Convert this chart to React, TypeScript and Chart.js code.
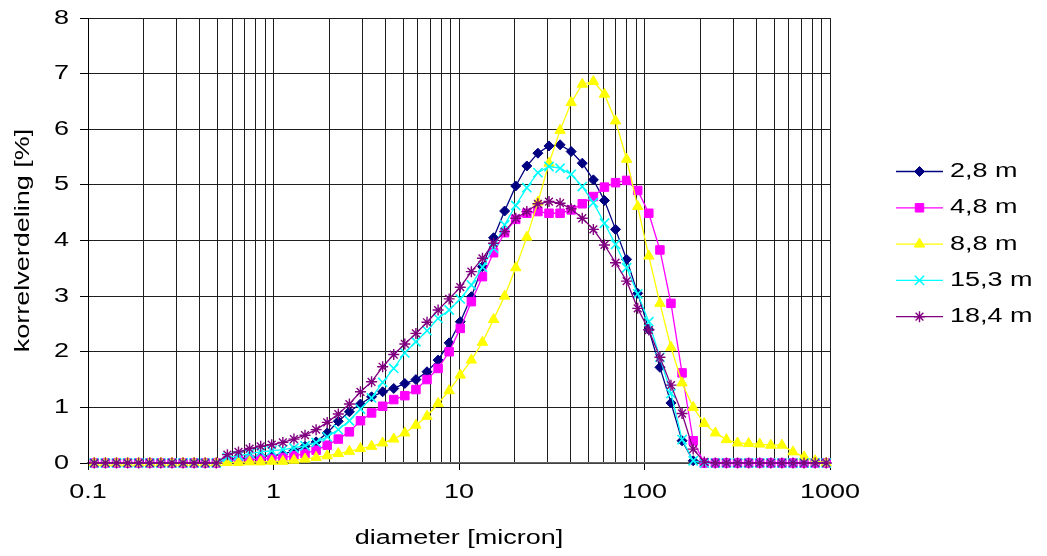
import React, { useEffect, useRef } from 'react';
import { Chart, registerables } from 'chart.js';
import { drawPoint } from 'chart.js/helpers';

Chart.register(...registerables);

// ---------- data ----------
const diameters = [
  0.1081, 0.1241, 0.1424, 0.1634, 0.1875, 0.2152, 0.247, 0.2835, 0.3253, 0.3733,
  0.4284, 0.4916, 0.5642, 0.6475, 0.743, 0.8527, 0.9784, 1.123, 1.289, 1.479,
  1.697, 1.948, 2.235, 2.565, 2.943, 3.378, 3.876, 4.448, 5.105, 5.858,
  6.723, 7.715, 8.853, 10.16, 11.66, 13.38, 15.36, 17.62, 20.22, 23.21,
  26.63, 30.56, 35.07, 40.25, 46.19, 53.01, 60.83, 69.81, 80.11, 91.93,
  105.5, 121.1, 138.9, 159.4, 183.0, 210.0, 241.0, 276.5, 317.3, 364.1,
  417.9, 479.6, 550.4, 631.6, 724.7, 831.7, 954.4,
];

const depth28 = [
  0, 0, 0, 0, 0, 0, 0, 0, 0, 0, 0, 0,
  0.06, 0.08, 0.1, 0.12, 0.13, 0.16, 0.22, 0.3, 0.38, 0.54,
  0.75, 0.92, 1.06, 1.19, 1.28, 1.34, 1.43, 1.5, 1.64, 1.85,
  2.16, 2.54, 2.99, 3.53, 4.05, 4.53, 4.98, 5.34, 5.57, 5.7,
  5.72, 5.6, 5.39, 5.09, 4.72, 4.2, 3.66, 3.05, 2.4, 1.72,
  1.08, 0.4, 0.04,
  0, 0, 0, 0, 0, 0, 0, 0, 0, 0, 0, 0,
];

const depth48 = [
  0, 0, 0, 0, 0, 0, 0, 0, 0, 0, 0, 0,
  0.04, 0.05, 0.06, 0.07, 0.08, 0.1, 0.13, 0.17, 0.23, 0.32,
  0.43, 0.56, 0.76, 0.9, 1.02, 1.14, 1.21, 1.32, 1.5, 1.7,
  2.0, 2.42, 2.9, 3.35, 3.78, 4.14, 4.38, 4.49, 4.52, 4.49,
  4.49, 4.55, 4.66, 4.79, 4.96, 5.04, 5.08, 4.9, 4.49, 3.83,
  2.87, 1.62, 0.4,
  0, 0, 0, 0, 0, 0, 0, 0, 0, 0, 0, 0,
];

const depth88 = [
  0, 0, 0, 0, 0, 0, 0, 0, 0, 0, 0, 0,
  0.01, 0.01, 0.02, 0.02, 0.03, 0.03, 0.05, 0.07, 0.1, 0.13,
  0.17, 0.21, 0.26, 0.3, 0.36, 0.43, 0.54, 0.68, 0.84, 1.07,
  1.3, 1.58, 1.85, 2.17, 2.58, 3.0, 3.51, 4.06, 4.69, 5.39,
  5.98, 6.48, 6.81, 6.86, 6.63, 6.15, 5.46, 4.61, 3.72, 2.87,
  2.08, 1.44, 1.0, 0.71, 0.54, 0.42, 0.36, 0.35, 0.34, 0.32,
  0.32, 0.2, 0.11, 0.04, 0,
];

const depth153 = [
  0, 0, 0, 0, 0, 0, 0, 0, 0, 0, 0, 0,
  0.1, 0.13, 0.17, 0.2, 0.22, 0.24, 0.27, 0.31, 0.37, 0.47,
  0.6, 0.76, 0.97, 1.17, 1.45, 1.7, 1.98, 2.18, 2.38, 2.6,
  2.75, 2.95, 3.2, 3.52, 3.86, 4.28, 4.63, 4.95, 5.22, 5.33,
  5.3, 5.19, 4.97, 4.68, 4.31, 3.93, 3.51, 3.04, 2.54, 1.9,
  1.25, 0.42, 0.04,
  0, 0, 0, 0, 0, 0, 0, 0, 0, 0, 0, 0,
];

const depth184 = [
  0, 0, 0, 0, 0, 0, 0, 0, 0, 0, 0, 0,
  0.15, 0.2, 0.26, 0.3, 0.33, 0.37, 0.43, 0.5, 0.6, 0.73,
  0.88, 1.06, 1.28, 1.46, 1.73, 1.95, 2.14, 2.33, 2.53, 2.75,
  2.95, 3.16, 3.44, 3.68, 3.95, 4.16, 4.4, 4.52, 4.66, 4.7,
  4.67, 4.57, 4.4, 4.2, 3.92, 3.6, 3.27, 2.78, 2.39, 1.9,
  1.4, 0.89, 0.25, 0.02,
  0, 0, 0, 0, 0, 0, 0, 0, 0, 0, 0,
];

const seriesLabels = ['2,8 m', '4,8 m', '8,8 m', '15,3 m', '18,4 m'];
const seriesValues = [depth28, depth48, depth88, depth153, depth184];

const xTickValues = [
  0.1, 0.2, 0.3, 0.4, 0.5, 0.6, 0.7, 0.8, 0.9,
  1, 2, 3, 4, 5, 6, 7, 8, 9,
  10, 20, 30, 40, 50, 60, 70, 80, 90,
  100, 200, 300, 400, 500, 600, 700, 800, 900,
  1000,
];
const xLabelValues = [0.1, 1, 10, 100, 1000];
const xLabelTexts = ['0.1', '1', '10', '100', '1000'];
const yTickValues = [0, 1, 2, 3, 4, 5, 6, 7, 8];

const xTitle = 'diameter [micron]';
const yTitle = 'korrelverdeling [%]';

// ---------- styles ----------
const FONT = '"Liberation Sans", Arial, sans-serif';
const TEXT_SX = 1.35;
const seriesStyles = [
  { color: '#000080', pointStyle: 'rectRot', radius: 5, pbw: 1 },
  { color: '#FF00FF', pointStyle: 'rect', radius: 6, pbw: 1 },
  { color: '#FFFF00', pointStyle: 'triangle', radius: 6, pbw: 1 },
  { color: '#00FFFF', pointStyle: 'crossRot', radius: 6.5, pbw: 1.6 },
  { color: '#800080', pointStyle: 'star', radius: 5.5, pbw: 1.4 },
];

function stretchedText(
  ctx: CanvasRenderingContext2D,
  text: string,
  x: number,
  y: number,
  align: CanvasTextAlign,
  baseline: CanvasTextBaseline,
  sx: number
) {
  ctx.save();
  ctx.translate(x, y);
  ctx.scale(sx, 1);
  ctx.textAlign = align;
  ctx.textBaseline = baseline;
  ctx.fillText(text, 0, 0);
  ctx.restore();
}

const textPlugin = {
  id: 'excelText',
  afterDraw(chart: any) {
    const ctx: CanvasRenderingContext2D = chart.ctx;
    const xs = chart.scales.x;
    const ys = chart.scales.y;
    ctx.save();
    ctx.fillStyle = '#000';
    ctx.font = `20px ${FONT}`;
    yTickValues.forEach((v) => {
      stretchedText(ctx, String(v), 69, ys.getPixelForValue(v), 'right', 'middle', TEXT_SX);
    });
    xLabelValues.forEach((v, i) => {
      stretchedText(ctx, xLabelTexts[i], xs.getPixelForValue(v), 482, 'center', 'top', TEXT_SX);
    });
    stretchedText(ctx, xTitle, (xs.left + xs.right) / 2, 528, 'center', 'top', TEXT_SX);

    // rotated y title (stretched along its baseline, like the horizontal texts)
    ctx.save();
    ctx.translate(23, (ys.top + ys.bottom) / 2);
    ctx.rotate(-Math.PI / 2);
    ctx.scale(TEXT_SX, 1);
    ctx.textAlign = 'center';
    ctx.textBaseline = 'middle';
    ctx.fillText(yTitle, 0, 0);
    ctx.restore();

    // legend
    seriesLabels.forEach((label, i) => {
      const st = seriesStyles[i];
      const y = 171.5 + i * 36.3;
      ctx.strokeStyle = st.color;
      ctx.lineWidth = 1.3;
      ctx.beginPath();
      ctx.moveTo(896, y);
      ctx.lineTo(943, y);
      ctx.stroke();
      ctx.fillStyle = st.color;
      ctx.lineWidth = st.pbw;
      drawPoint(ctx, { pointStyle: st.pointStyle as any, rotation: 0, radius: st.radius, borderWidth: st.pbw }, 919.5, y);
      ctx.fillStyle = '#000';
      stretchedText(ctx, label, 950, y, 'left', 'middle', TEXT_SX);
    });
    ctx.restore();
  },
};

export default function App() {
  const canvasRef = useRef<HTMLCanvasElement | null>(null);

  useEffect(() => {
    document.body.style.margin = '0';
    const canvas = canvasRef.current;
    if (!canvas) return;
    const datasets = seriesLabels.map((label, i) => {
      const st = seriesStyles[i];
      return {
        label,
        data: diameters.map((x, j) => ({ x, y: seriesValues[i][j] })),
        borderColor: st.color,
        backgroundColor: st.color,
        pointBackgroundColor: st.color,
        pointBorderColor: st.color,
        pointStyle: st.pointStyle,
        pointRadius: st.radius,
        pointHoverRadius: st.radius,
        pointBorderWidth: st.pbw,
        borderWidth: 1.3,
        tension: 0,
        fill: false,
        clip: 12,
        order: 4 - i,
      };
    });

    const chart = new Chart(canvas, {
      type: 'line',
      data: { datasets } as any,
      options: {
        animation: false,
        responsive: false,
        devicePixelRatio: 1,
        events: [],
        layout: { padding: { top: 18, right: 217, left: 0, bottom: 0 } },
        plugins: { legend: { display: false }, tooltip: { enabled: false } },
        scales: {
          x: {
            type: 'logarithmic',
            min: 0.1,
            max: 1000,
            afterBuildTicks: (s: any) => {
              s.ticks = xTickValues.map((v) => ({ value: v }));
            },
            afterFit: (s: any) => {
              s.height = 93;
            },
            ticks: { display: false },
            grid: {
              color: '#1e1e1e',
              lineWidth: 1,
              drawTicks: true,
              tickLength: 7,
              tickColor: (c: any) =>
                c.tick && xLabelValues.includes(c.tick.value) ? '#000' : 'rgba(0,0,0,0)',
            },
            border: { display: true, color: '#666', width: 1.5 },
          },
          y: {
            type: 'linear',
            min: 0,
            max: 8,
            ticks: { display: false, stepSize: 1 },
            afterFit: (s: any) => {
              s.width = 88;
            },
            grid: { color: '#1e1e1e', lineWidth: 1, drawTicks: true, tickLength: 8, tickColor: '#000' },
            border: { display: true, color: '#000', width: 1 },
          },
        },
      },
      plugins: [textPlugin],
    } as any);

    return () => chart.destroy();
  }, []);

  return (
    <div style={{ width: 1047, height: 556, background: '#fff' }}>
      <canvas ref={canvasRef} width={1047} height={556} style={{ width: 1047, height: 556, display: 'block' }} />
    </div>
  );
}
